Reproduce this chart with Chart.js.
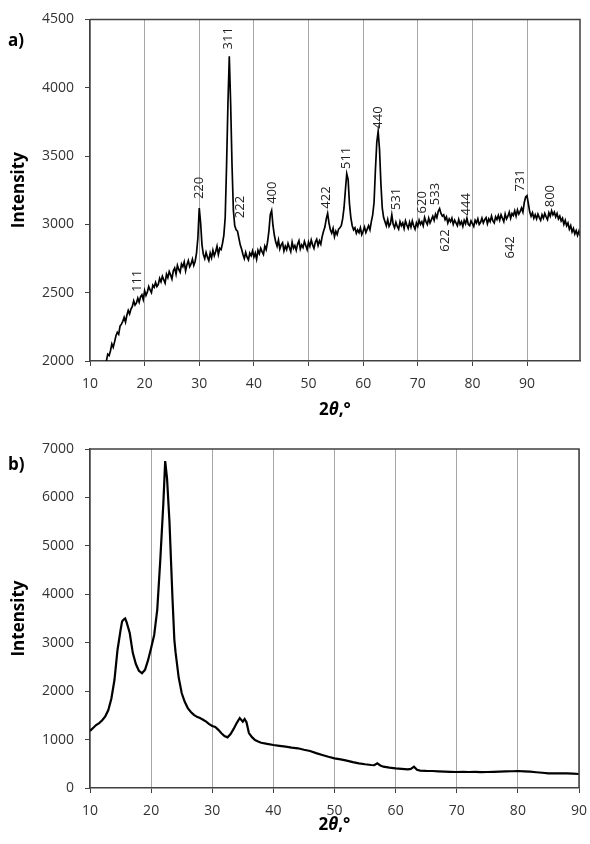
<!DOCTYPE html>
<html>
<head>
<meta charset="utf-8">
<script src="https://cdn.jsdelivr.net/npm/chart.js@4/dist/chart.umd.min.js"></script>
<style>
  body { margin: 0; background: #fff; }
  .panel { position: absolute; left: 0; width: 590px; }
  #wrapA { top: 0; height: 420px; }
  #wrapB { top: 420px; height: 424px; }
</style>
</head>
<body>
<div class="panel" id="wrapA"><canvas id="chartA" width="590" height="420"></canvas></div>
<div class="panel" id="wrapB"><canvas id="chartB" width="590" height="424"></canvas></div>
<script>
// a) XRD pattern, scan starts at 13 deg, step 0.25 deg
const aStart = 13;
const aStep = 0.25;
const aIntensity = [
  2000, 2050, 2040, 2075,  2125, 2100, 2140, 2185,  2210, 2195, 2255, 2270,
  2290, 2320, 2285, 2335,  2370, 2345, 2380, 2400,  2440, 2410, 2425, 2460,
  2430, 2470, 2485, 2450,  2515, 2480, 2505, 2545,  2520, 2500, 2555, 2540,
  2575, 2545, 2560, 2605,  2580, 2620, 2595, 2570,  2635, 2610, 2655, 2630,
  2600, 2660, 2680, 2635,  2700, 2670, 2650, 2710,  2690, 2725, 2660, 2705,
  2735, 2690, 2710, 2745,  2700, 2730, 2790, 2900,  3120, 3010, 2850, 2780,
  2750, 2795, 2760, 2735,  2790, 2755, 2810, 2770,  2800, 2840, 2780, 2825,
  2815, 2860, 2920, 3050,  3430, 3880, 4230, 3880,  3430, 3100, 2990, 2960,
  2950, 2900, 2850, 2820,  2780, 2750, 2795, 2760,  2740, 2790, 2770, 2805,
  2760, 2790, 2745, 2810,  2785, 2825, 2800, 2780,  2840, 2815, 2870, 2950,
  3070, 3100, 2990, 2920,  2870, 2840, 2885, 2820,  2850, 2865, 2805, 2840,
  2815, 2860, 2830, 2800,  2870, 2825, 2845, 2810,  2855, 2880, 2820, 2850,
  2830, 2875, 2845, 2815,  2870, 2840, 2885, 2850,  2825, 2870, 2890, 2845,
  2880, 2855, 2910, 2950,  2980, 3040, 3080, 3010,  2960, 2935, 2970, 2910,
  2950, 2925, 2965, 2975,  2990, 3040, 3120, 3250,  3370, 3330, 3150, 3050,
  2990, 2960, 2975, 2935,  2960, 2940, 2975, 2925,  2950, 2980, 2940, 2965,
  2990, 2960, 3020, 3070,  3160, 3400, 3600, 3680,  3550, 3300, 3120, 3050,
  3020, 2990, 3035, 2985,  3005, 3070, 3000, 2975,  3015, 2985, 2965, 3020,
  2990, 3010, 2970, 3025,  2995, 2970, 3015, 2980,  3025, 2990, 2965, 3010,
  2985, 3030, 3000, 3020,  2990, 3050, 3020, 3000,  3045, 3010, 3035, 3060,
  3030, 3075, 3050, 3095,  3115, 3080, 3060, 3070,  3035, 3055, 3010, 3040,
  3020, 3045, 3000, 3030,  3010, 2990, 3035, 3000,  3020, 2985, 3030, 3005,
  3045, 3000, 2990, 3025,  3005, 2985, 3030, 3010,  3040, 3000, 3015, 3045,
  3010, 3035, 3050, 3005,  3040, 3020, 3060, 3025,  3010, 3055, 3035, 3065,
  3030, 3070, 3045, 3020,  3075, 3040, 3060, 3090,  3045, 3080, 3065, 3100,
  3060, 3105, 3075, 3095,  3120, 3090, 3160, 3200,  3210, 3150, 3090, 3060,
  3085, 3045, 3070, 3040,  3075, 3050, 3030, 3070,  3045, 3080, 3055, 3035,
  3085, 3060, 3100, 3070,  3090, 3055, 3080, 3040,  3060, 3025, 3045, 3000,
  3030, 2990, 3010, 2965,  2990, 2945, 2970, 2930,  2955, 2920, 2950, 2915
];
// hkl labels of panel a) (text starts at the given angle / intensity)
const hklLabels    = ['111', '220', '311', '222', '400', '422', '511', '440', '531', '620', '533', '622', '444', '642', '731', '800'];
const hklAngle     = [18.7, 30.0, 35.4, 37.6, 43.4, 53.2, 57.0, 62.7, 66.0, 70.9, 73.2, 75.0, 78.9, 87.0, 88.7, 94.2];
const hklIntensity = [2505, 3185, 4280, 3045, 3150, 3115, 3405, 3700, 3105, 3080, 3140, 2800, 3065, 2750, 3240, 3125];

// b) pattern
const bAngle = [10, 10.5, 11, 11.5, 12, 12.5, 13, 13.5, 14, 14.5, 15, 15.25, 15.5, 15.75, 16, 16.5, 17, 17.5,
  18, 18.5, 19, 19.5, 20, 20.5, 21, 21.5, 22, 22.3, 22.6, 23, 23.5, 23.8, 24, 24.5, 25, 25.5, 26, 26.5, 27, 27.5,
  28, 28.5, 29, 29.5, 30, 30.5, 31, 31.5, 32, 32.5, 33, 33.5, 34, 34.5, 35, 35.3, 35.6, 36, 36.5, 37, 37.5, 38,
  39, 40, 41, 42, 43, 44, 45, 46, 47, 48, 49, 50, 51, 52, 53, 54, 55, 56, 56.5, 57, 57.5, 58, 59, 60, 61, 62,
  62.5, 63, 63.5, 64, 65, 66, 67, 68, 69, 70, 71, 72, 73, 74, 75, 76, 77, 78, 79, 80, 81, 82, 83, 84, 85, 86,
  87, 88, 89, 90];
const bIntensity = [1180, 1240, 1300, 1340, 1400, 1480, 1610, 1850, 2230, 2850, 3260, 3440, 3480, 3500, 3420, 3200, 2790, 2560,
  2420, 2370, 2440, 2640, 2890, 3160, 3680, 4710, 5880, 6750, 6400, 5500, 3900, 3060, 2800, 2290, 1960, 1780, 1650, 1570, 1510, 1470,
  1445, 1410, 1370, 1320, 1280, 1260, 1200, 1130, 1074, 1046, 1115, 1220, 1340, 1445, 1370, 1425, 1360, 1135, 1050, 990, 960, 935,
  910, 888, 870, 853, 835, 820, 790, 764, 720, 681, 645, 613, 590, 564, 535, 509, 490, 475, 470, 509, 465, 440, 420, 406, 395, 385,
  395, 440, 375, 358, 352, 351, 345, 340, 335, 330, 332, 330, 332, 328, 330, 335, 338, 342, 346, 351, 345, 337, 325, 315, 303, 300,
  302, 303, 296, 289];

const aTicksY = [2000, 2500, 3000, 3500, 4000, 4500];
const bTicksY = [0, 1000, 2000, 3000, 4000, 5000, 6000, 7000];

const frameColor = '#404040';
const gridColor = '#a6a6a6';
const textColor = '#333';
const tickFont = { family: 'Open Sans', size: 14 };

// frame, panel letter, axis titles and hkl labels
const decoPlugin = {
  id: 'deco',
  afterDraw(chart, args, opts) {
    const ctx = chart.ctx;
    const a = chart.chartArea;
    ctx.save();
    ctx.strokeStyle = frameColor;
    ctx.lineWidth = 1.5;
    ctx.beginPath();
    ctx.moveTo(a.left, a.top);
    ctx.lineTo(a.right, a.top);
    ctx.lineTo(a.right, a.bottom);
    ctx.stroke();

    ctx.fillStyle = '#000';
    ctx.font = 'bold 17px "Open Sans"';
    ctx.textAlign = 'left';
    ctx.textBaseline = 'middle';
    ctx.fillText(opts.letter, 8, opts.letterY);

    // y title
    ctx.save();
    ctx.translate(19, (a.top + a.bottom) / 2);
    ctx.rotate(-Math.PI / 2);
    ctx.textAlign = 'center';
    ctx.fillText('Intensity', 0, 0);
    ctx.restore();

    // x title: 2θ,°
    const parts = [['2', 'bold 17px "Open Sans"'], ['θ', 'italic bold 17px "Open Sans"'], [',°', 'bold 17px "Open Sans"']];
    let total = 0;
    parts.forEach(p => { ctx.font = p[1]; total += ctx.measureText(p[0]).width; });
    let x = (a.left + a.right) / 2 - total / 2;
    ctx.textAlign = 'left';
    parts.forEach(p => { ctx.font = p[1]; ctx.fillText(p[0], x, opts.xTitleY); x += ctx.measureText(p[0]).width; });

    if (opts.hkl) {
      const xs = chart.scales.x, ys = chart.scales.y;
      ctx.font = '13px "Open Sans"';
      ctx.fillStyle = '#222';
      ctx.textAlign = 'left';
      ctx.textBaseline = 'middle';
      hklLabels.forEach((t, i) => {
        ctx.save();
        ctx.translate(xs.getPixelForValue(hklAngle[i]), ys.getPixelForValue(hklIntensity[i]));
        ctx.rotate(-Math.PI / 2);
        ctx.fillText(t, 0, 0);
        ctx.restore();
      });
    }
    ctx.restore();
  }
};

function makeChart(canvas, points, cfg) {
  return new Chart(canvas.getContext('2d'), {
    type: 'line',
    data: {
      datasets: [{
        data: points,
        borderColor: '#000',
        borderWidth: cfg.lineWidth,
        pointRadius: 0,
        tension: 0,
        fill: false
      }]
    },
    options: {
      responsive: false,
      devicePixelRatio: 1,
      animation: false,
      parsing: false,
      layout: { padding: cfg.padding },
      plugins: {
        legend: { display: false },
        tooltip: { enabled: false },
        deco: cfg.deco
      },
      scales: {
        x: {
          type: 'linear',
          min: 10,
          max: cfg.xMax,
          afterFit(s) { s.height = cfg.xAxisHeight; s.paddingLeft = 0; s.paddingRight = 0; },
          border: { color: frameColor, width: 1.5 },
          grid: { color: gridColor, lineWidth: 1, tickLength: 5, tickColor: frameColor },
          ticks: { stepSize: 10, includeBounds: false, font: tickFont, color: textColor, padding: 10, maxRotation: 0,
                   callback: v => String(v) }
        },
        y: {
          type: 'linear',
          min: cfg.yTicks[0],
          max: cfg.yTicks[cfg.yTicks.length - 1],
          afterFit(s) { s.width = 90; },
          border: { color: frameColor, width: 1.5 },
          grid: { drawOnChartArea: false, tickLength: 5, tickColor: frameColor },
          ticks: { stepSize: cfg.yTicks[1] - cfg.yTicks[0], font: tickFont, color: textColor, padding: 11,
                   callback: v => String(v) }
        }
      }
    },
    plugins: [decoPlugin]
  });
}

const aPoints = aIntensity.map((v, i) => ({ x: aStart + i * aStep, y: v }));
const bPoints = bAngle.map((v, i) => ({ x: v, y: bIntensity[i] }));

makeChart(document.getElementById('chartA'), aPoints, {
  lineWidth: 1.7,
  xMax: 99.7,
  xAxisHeight: 59,
  yTicks: aTicksY,
  padding: { top: 19, right: 10, left: 0, bottom: 0 },
  deco: { letter: 'a)', letterY: 41, xTitleY: 410, hkl: true }
});

makeChart(document.getElementById('chartB'), bPoints, {
  lineWidth: 2.2,
  xMax: 90,
  xAxisHeight: 56,
  yTicks: bTicksY,
  padding: { top: 29, right: 11, left: 0, bottom: 0 },
  deco: { letter: 'b)', letterY: 45, xTitleY: 405, hkl: false }
});
</script>
</body>
</html>
